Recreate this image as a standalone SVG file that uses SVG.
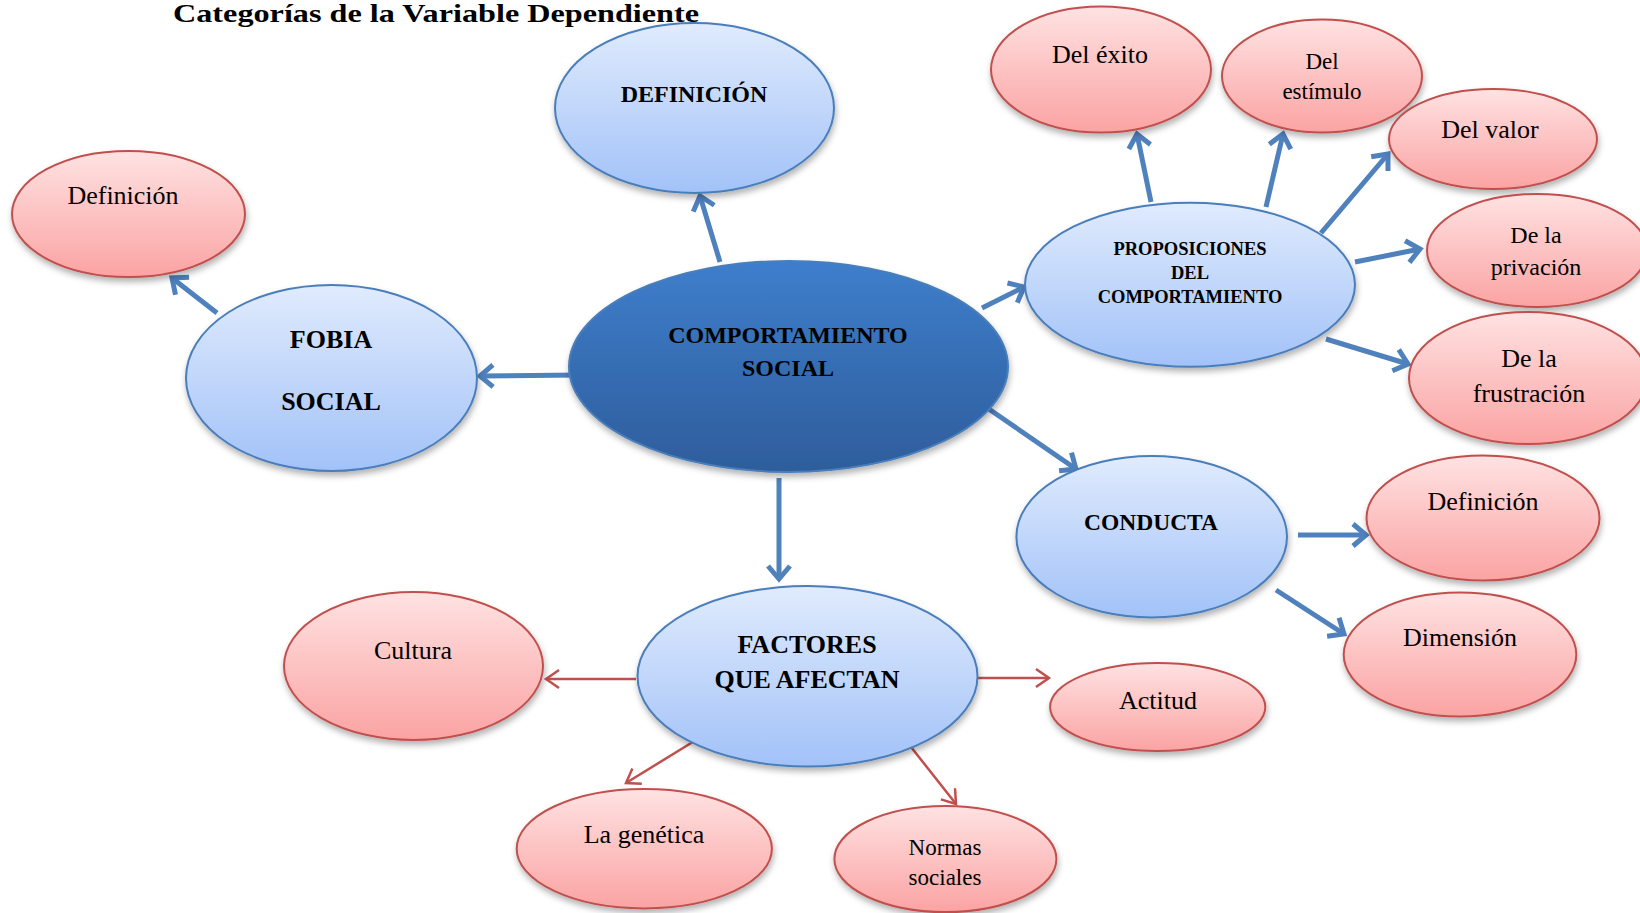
<svg xmlns="http://www.w3.org/2000/svg" width="1640" height="913" viewBox="0 0 1640 913">
<style>
  text { font-family: "Liberation Serif", "Times New Roman", serif; fill: #000; text-anchor: middle; }
  .b { font-weight: bold; }
  .pink { fill: url(#gPink); stroke: #c0504d; stroke-width: 2; filter: url(#sh); }
  .lblue { fill: url(#gBlue); stroke: #4a7ebb; stroke-width: 2; filter: url(#sh); }
  .dblue { fill: url(#gDark); stroke: #4a7ebb; stroke-width: 2; filter: url(#sh); }
  .ab { stroke: #4f81bd; stroke-width: 5; fill: none; marker-end: url(#mB); }
  .ar { stroke: #c0504d; stroke-width: 2.5; fill: none; marker-end: url(#mR); }
</style>
<defs>
  <linearGradient id="gPink" x1="0" y1="0" x2="0" y2="1">
    <stop offset="0" stop-color="#ffe2e2"/>
    <stop offset="1" stop-color="#fba3a3"/>
  </linearGradient>
  <linearGradient id="gBlue" x1="0" y1="0" x2="0" y2="1">
    <stop offset="0" stop-color="#e0ebfd"/>
    <stop offset="1" stop-color="#a2c2f8"/>
  </linearGradient>
  <linearGradient id="gDark" x1="0" y1="0" x2="0" y2="1">
    <stop offset="0" stop-color="#3e7ecc"/>
    <stop offset="1" stop-color="#2e5d9b"/>
  </linearGradient>
  <filter id="sh" x="-20%" y="-20%" width="140%" height="150%">
    <feDropShadow dx="1" dy="4" stdDeviation="3" flood-color="#000" flood-opacity="0.3"/>
  </filter>
  <marker id="mB" viewBox="-22 -16 28 32" refX="0" refY="0" markerWidth="28" markerHeight="32" markerUnits="userSpaceOnUse" orient="auto">
    <path d="M -13 -11 L 0 0 L -13 11" fill="none" stroke="#4f81bd" stroke-width="5" stroke-linejoin="miter"/>
  </marker>
  <marker id="mR" viewBox="-18 -12 22 24" refX="0" refY="0" markerWidth="22" markerHeight="24" markerUnits="userSpaceOnUse" orient="auto">
    <path d="M -13 -9 L 0 0 L -13 9" fill="none" stroke="#c0504d" stroke-width="2.5"/>
  </marker>
</defs>

<text class="b" x="173" y="22" font-size="26" style="text-anchor:start" textLength="526" lengthAdjust="spacingAndGlyphs">Categorías de la Variable Dependiente</text>

<g id="connectors">
  <line class="ab" x1="720" y1="262" x2="700" y2="196"/>
  <line class="ab" x1="217" y1="313" x2="172" y2="278"/>
  <line class="ab" x1="579" y1="375" x2="480" y2="376"/>
  <line class="ab" x1="982" y1="308" x2="1024" y2="287"/>
  <line class="ab" x1="983" y1="405" x2="1076" y2="469"/>
  <line class="ab" x1="779" y1="478" x2="779" y2="579"/>
  <line class="ab" x1="1151" y1="202" x2="1137" y2="134"/>
  <line class="ab" x1="1266" y1="207" x2="1283" y2="134"/>
  <line class="ab" x1="1321" y1="233" x2="1388" y2="154"/>
  <line class="ab" x1="1355" y1="262" x2="1420" y2="249"/>
  <line class="ab" x1="1326" y1="339" x2="1408" y2="364"/>
  <line class="ab" x1="1298" y1="535" x2="1366" y2="535"/>
  <line class="ab" x1="1276" y1="590" x2="1344" y2="634"/>
  <line class="ar" x1="636" y1="679" x2="546" y2="679"/>
  <line class="ar" x1="976" y1="678" x2="1049" y2="678"/>
  <line class="ar" x1="696" y1="740" x2="626" y2="783"/>
  <line class="ar" x1="911" y1="747" x2="956" y2="804"/>
</g>

<g id="n-definicion-top">
  <ellipse class="lblue" cx="694.5" cy="108" rx="139.5" ry="85"/>
  <text class="b" x="694" y="102" font-size="24">DEFINICIÓN</text>
</g>
<g id="n-comportamiento">
  <ellipse class="dblue" cx="788.5" cy="366.5" rx="219.5" ry="105.5"/>
  <text class="b" x="788" y="343" font-size="24">COMPORTAMIENTO</text>
  <text class="b" x="788" y="376" font-size="24">SOCIAL</text>
</g>
<g id="n-fobia">
  <ellipse class="lblue" cx="331.5" cy="378" rx="145.5" ry="93"/>
  <text class="b" x="331" y="348" font-size="26">FOBIA</text>
  <text class="b" x="331" y="410" font-size="26">SOCIAL</text>
</g>
<g id="n-fobia-definicion">
  <ellipse class="pink" cx="128.5" cy="214" rx="116.5" ry="63"/>
  <text x="123" y="204" font-size="26">Definición</text>
</g>
<g id="n-proposiciones">
  <ellipse class="lblue" cx="1190" cy="284.7" rx="165" ry="82"/>
  <text class="b" x="1190" y="255" font-size="18.5">PROPOSICIONES</text>
  <text class="b" x="1190" y="279" font-size="18.5">DEL</text>
  <text class="b" x="1190" y="303" font-size="18.5">COMPORTAMIENTO</text>
</g>
<g id="n-exito">
  <ellipse class="pink" cx="1101" cy="69.5" rx="110" ry="63"/>
  <text x="1100" y="63" font-size="26">Del éxito</text>
</g>
<g id="n-estimulo">
  <ellipse class="pink" cx="1322" cy="76" rx="100" ry="56.5"/>
  <text x="1322" y="69" font-size="23">Del</text>
  <text x="1322" y="99" font-size="23">estímulo</text>
</g>
<g id="n-valor">
  <ellipse class="pink" cx="1493" cy="139" rx="104" ry="50"/>
  <text x="1490" y="138" font-size="26">Del valor</text>
</g>
<g id="n-privacion">
  <ellipse class="pink" cx="1537" cy="250.5" rx="110" ry="56.5"/>
  <text x="1536" y="243" font-size="24">De la</text>
  <text x="1536" y="275" font-size="24">privación</text>
</g>
<g id="n-frustracion">
  <ellipse class="pink" cx="1528" cy="378" rx="119" ry="66"/>
  <text x="1529" y="367" font-size="26">De la</text>
  <text x="1529" y="402" font-size="26">frustración</text>
</g>
<g id="n-conducta">
  <ellipse class="lblue" cx="1151.7" cy="536.7" rx="135.3" ry="80.7"/>
  <text class="b" x="1151" y="530" font-size="23.5">CONDUCTA</text>
</g>
<g id="n-conducta-definicion">
  <ellipse class="pink" cx="1483" cy="518" rx="116.5" ry="62.5"/>
  <text x="1483" y="510" font-size="26">Definición</text>
</g>
<g id="n-dimension">
  <ellipse class="pink" cx="1460" cy="654.5" rx="116.3" ry="62"/>
  <text x="1460" y="646" font-size="26">Dimensión</text>
</g>
<g id="n-factores">
  <ellipse class="lblue" cx="807.5" cy="676.3" rx="170" ry="90.3"/>
  <text class="b" x="807" y="653" font-size="26">FACTORES</text>
  <text class="b" x="807" y="688" font-size="26">QUE AFECTAN</text>
</g>
<g id="n-cultura">
  <ellipse class="pink" cx="413.5" cy="666" rx="129.5" ry="74"/>
  <text x="413" y="659" font-size="26">Cultura</text>
</g>
<g id="n-actitud">
  <ellipse class="pink" cx="1157.7" cy="707" rx="107.6" ry="44"/>
  <text x="1158" y="709" font-size="26">Actitud</text>
</g>
<g id="n-genetica">
  <ellipse class="pink" cx="644.3" cy="848.7" rx="127.6" ry="59.7"/>
  <text x="644" y="843" font-size="26">La genética</text>
</g>
<g id="n-normas">
  <ellipse class="pink" cx="945.4" cy="859" rx="111" ry="53"/>
  <text x="945" y="855" font-size="23">Normas</text>
  <text x="945" y="885" font-size="23">sociales</text>
</g>
</svg>
